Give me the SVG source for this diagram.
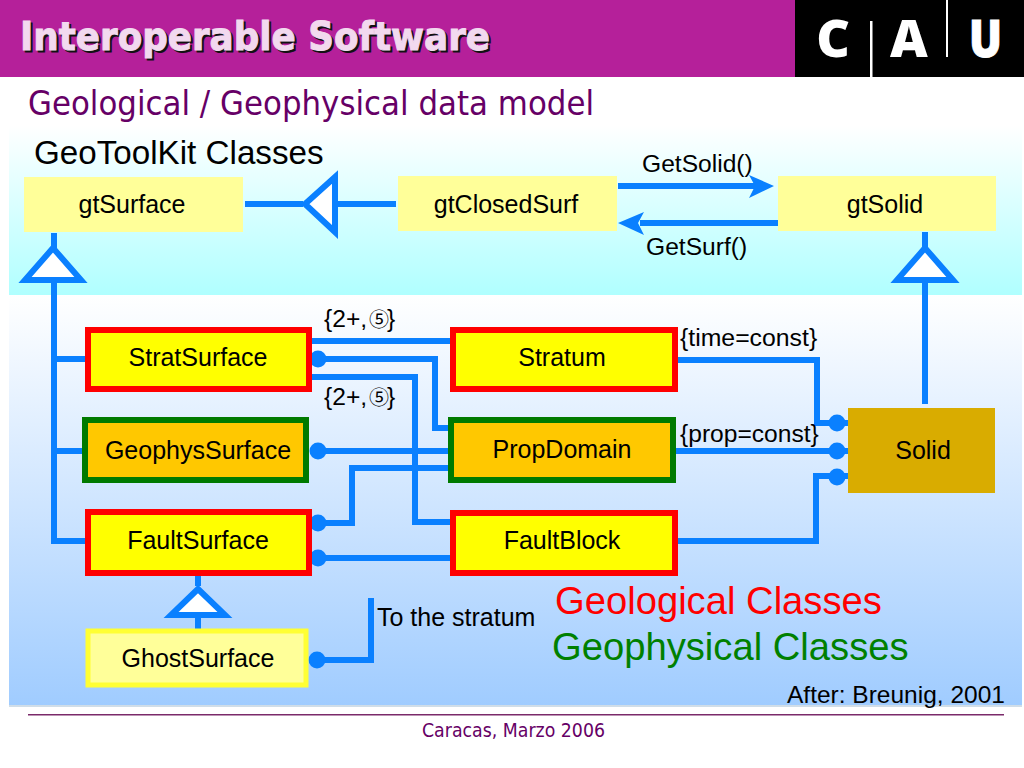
<svg xmlns="http://www.w3.org/2000/svg" width="1024" height="768" viewBox="0 0 1024 768">
<style>
text{font-family:"Liberation Sans",Arial,"Noto Sans CJK JP",sans-serif;fill:#000}
.n{font-size:25px;text-anchor:middle}
.l{font-size:24.6px}
.m{font-size:20px;font-family:"Noto Sans CJK JP","DejaVu Sans",sans-serif}
.box{stroke-width:6}
.geo{fill:#ffff00;stroke:#ff0000}
.phy{fill:#ffc800;stroke:#007a00}
.gt{fill:#ffff99}
.c{fill:none;stroke:#0a80ff;stroke-width:6}
.tri{fill:#fff;stroke:#0a80ff;stroke-width:6}
.dot{fill:#0a80ff}
.logo{font-family:"Open Sans",sans-serif;font-size:52px;font-weight:800;text-anchor:middle;fill:#fff}
.ttl{font-family:"DejaVu Sans",sans-serif;font-weight:700;font-size:39px}
</style>
<defs>
<linearGradient id="g1" x1="0" y1="0" x2="0" y2="1"><stop offset="0" stop-color="#ffffff"/><stop offset="1" stop-color="#b0ffff"/></linearGradient>
<linearGradient id="g2" x1="0" y1="0" x2="0" y2="1"><stop offset="0" stop-color="#ffffff"/><stop offset="1" stop-color="#a0ccff"/></linearGradient>
</defs>
<rect width="1024" height="768" fill="#fff"/>
<rect x="9" y="125" width="1013" height="170" fill="url(#g1)"/>
<rect x="9" y="295" width="1013" height="410" fill="url(#g2)"/>
<rect x="9" y="705" width="1013" height="2" fill="#d0dde8"/>
<g id="header">
<rect width="795" height="77" fill="#b5209a"/>
<rect x="795" width="229" height="77" fill="#000"/>
<rect x="870" y="21" width="2.5" height="56" fill="#fff"/>
<rect x="946" y="0" width="2" height="57" fill="#fff"/>
<text class="logo" x="833" y="57">C</text>
<text class="logo" x="909" y="57">A</text>
<text class="logo" x="985.500" y="57" textLength="33" lengthAdjust="spacingAndGlyphs" style="stroke:#fff;stroke-width:1">U</text>
<text class="ttl" x="22" y="52" textLength="470" lengthAdjust="spacingAndGlyphs" style="fill:#111;stroke:#111;stroke-width:1">Interoperable Software</text>
<text class="ttl" x="20" y="50" textLength="470" lengthAdjust="spacingAndGlyphs" style="fill:#f2d9ef;stroke:#f2d9ef;stroke-width:1">Interoperable Software</text>
<text x="28" y="115" textLength="566" lengthAdjust="spacingAndGlyphs" style="font-family:'DejaVu Sans',sans-serif;font-size:34px;fill:#660066">Geological / Geophysical data model</text>
</g>
<g id="connectors">
<path class="c" d="M245 204H303M337 204H396"/>
<path class="c" d="M54 233V250M54 283V541H86M54 359H86M54 451H83"/>
<path class="c" d="M925 232V250M925 283V404"/>
<path class="c" d="M618 186H755"/>
<polygon class="dot" points="774,186 749,175 755,186 749,198"/>
<path class="c" d="M778 223H640"/>
<polygon class="dot" points="618,223 644,212 638,223 644,235"/>
<path class="c" d="M312 341H450"/>
<path class="c" d="M318 359H435V428H448"/>
<path class="c" d="M312 377H415V522H450"/>
<path class="c" d="M318 451H448"/>
<path class="c" d="M318 523H352V468H448"/>
<path class="c" d="M318 558H450"/>
<path class="c" d="M677 360H817V423H848"/>
<path class="c" d="M676 451H848"/>
<path class="c" d="M677 541H816V476H848"/>
<path class="c" d="M198 575V586M198 618V629"/>
<path class="c" d="M318 660H371V598"/>
<polygon class="tri" points="305,204 335,177 335,232"/>
<polygon class="tri" points="53,248 25,280 81,280"/>
<polygon class="tri" points="925,248 897,280 953,280"/>
<polygon class="tri" points="198,589 171,615 225,615"/>
<g class="dot">
<circle cx="318" cy="359" r="8.500"/><circle cx="318" cy="451" r="8.500"/><circle cx="318" cy="523" r="8.500"/><circle cx="318" cy="558" r="8.500"/><circle cx="317" cy="660" r="8.500"/>
<circle cx="837" cy="423" r="8.500"/><circle cx="837" cy="451" r="8.500"/><circle cx="837" cy="477" r="8.500"/>
</g>
</g>
<g id="gtSurface"><rect class="gt" x="24" y="177" width="219" height="55"/><text class="n" x="132" y="213">gtSurface</text></g>
<g id="gtClosedSurf"><rect class="gt" x="398" y="176" width="219" height="55"/><text class="n" x="506" y="213">gtClosedSurf</text></g>
<g id="gtSolid"><rect class="gt" x="778" y="176" width="218" height="55"/><text class="n" x="885" y="213">gtSolid</text></g>
<g id="StratSurface"><rect class="box geo" x="88" y="330" width="221" height="59"/><text class="n" x="198" y="366">StratSurface</text></g>
<g id="GeophysSurface"><rect class="box phy" x="85" y="420" width="221" height="60"/><text class="n" x="198" y="459">GeophysSurface</text></g>
<g id="FaultSurface"><rect class="box geo" x="88" y="512" width="221" height="61"/><text class="n" x="198" y="549">FaultSurface</text></g>
<g id="GhostSurface"><rect x="88" y="631" width="218" height="54" fill="#ffff99" stroke="#ffff33" stroke-width="5"/><text class="n" x="198" y="667">GhostSurface</text></g>
<g id="Stratum"><rect class="box geo" x="453" y="330" width="222" height="59"/><text class="n" x="562" y="366">Stratum</text></g>
<g id="PropDomain"><rect class="box phy" x="451" y="420" width="222" height="60"/><text class="n" x="562" y="458">PropDomain</text></g>
<g id="FaultBlock"><rect class="box geo" x="453" y="513" width="222" height="60"/><text class="n" x="562" y="549">FaultBlock</text></g>
<g id="Solid"><rect x="848" y="408" width="147" height="85" fill="#d9ac00"/><text class="n" x="923" y="459">Solid</text></g>
<g id="labels">
<text x="34" y="164" font-size="33.200">GeoToolKit Classes</text>
<text class="l" x="642" y="172">GetSolid()</text>
<text class="l" x="646" y="255">GetSurf()</text>
<text class="l" x="324" y="327">{2+,<tspan class="m" dx="2">⑤</tspan><tspan dx="-2">}</tspan></text>
<text class="l" x="324" y="405">{2+,<tspan class="m" dx="2">⑤</tspan><tspan dx="-2">}</tspan></text>
<text x="680" y="346" font-size="24.800">{time=const}</text>
<text x="680" y="442" font-size="24.600">{prop=const}</text>
<text x="377" y="626" font-size="25">To the stratum</text>
<text x="555" y="614" font-size="38.200" style="fill:#ff0000">Geological Classes</text>
<text x="552" y="660" font-size="38.200" style="fill:#008000">Geophysical Classes</text>
<text x="787" y="703" font-size="24.500">After: Breunig, 2001</text>
</g>
<g id="footer">
<rect x="28" y="714" width="976" height="1.500" fill="#7b2a6a"/>
<text x="422" y="737" textLength="183" lengthAdjust="spacingAndGlyphs" style="font-family:'DejaVu Sans',sans-serif;font-size:19px;fill:#660066">Caracas, Marzo 2006</text>
</g>
</svg>
